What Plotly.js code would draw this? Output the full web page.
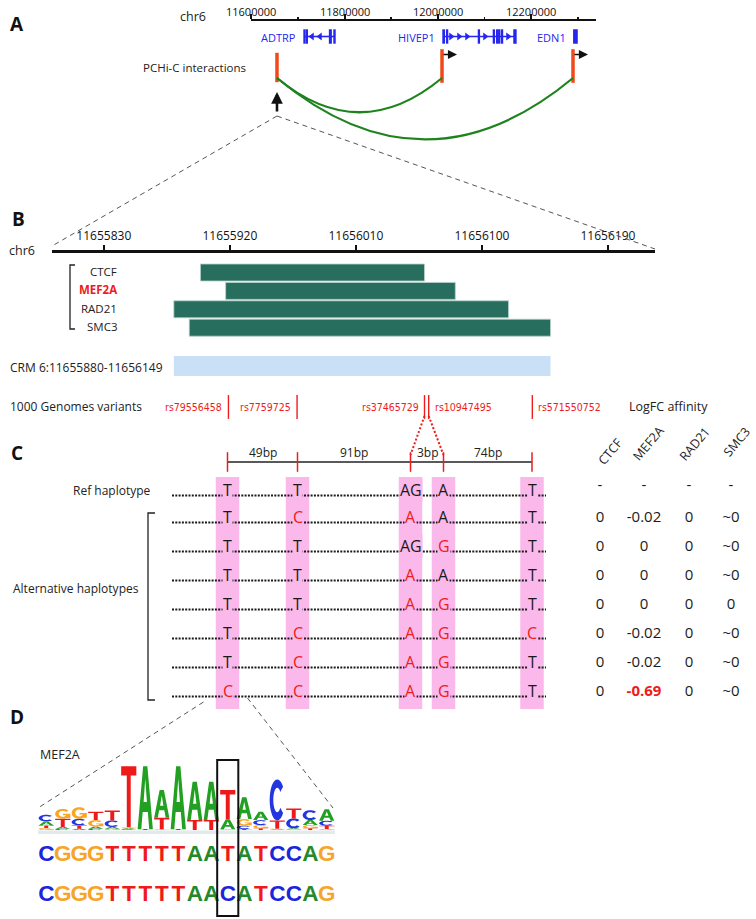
<!DOCTYPE html>
<html><head><meta charset="utf-8">
<script src="https://cdn.plot.ly/plotly-3.0.1.min.js"></script>
<style>html,body{margin:0;padding:0;background:#fff}#chart{width:756px;height:919px}</style>
</head><body><div id="chart"></div>
<script>
// ===================== DATA =====================
const chromName = 'chr6';
const overviewTicks = [11600000, 11800000, 12000000, 12200000];
const geneNames = ['ADTRP', 'HIVEP1', 'EDN1'];
const geneStart = [11713400, 12010700, 12290500];
const geneEnd = [11779700, 12166800, 12297500];
const geneStrand = ['-', '+', '+'];
const geneExons = [
  [[11713400, 11715000], [11718000, 11720500], [11768000, 11771500], [11777500, 11779700]],
  [[12010700, 12013500], [12018500, 12020500], [12086500, 12088500], [12118500, 12120500],
   [12125500, 12127500], [12130000, 12132000], [12136000, 12138000], [12162500, 12166800]],
  [[12290500, 12297500]]
];
const geneChevrons = [[11730500, 11747600], [12027800, 12044900, 12062000, 12100500, 12149800], []];
const pchicOtherEnd = 11655600;
const pchicBaits = [12008600, 12288800];

const zoomTicks = [11655830, 11655920, 11656010, 11656100, 11656190];
const tfNames = ['CTCF', 'MEF2A', 'RAD21', 'SMC3'];
const tfStart = [11655899, 11655917, 11655880, 11655891];
const tfEnd = [11656059, 11656081, 11656119, 11656149];
const crmName = 'CRM 6:11655880-11656149';
const crmStart = 11655880;
const crmEnd = 11656149;
const variantIds = ['rs79556458', 'rs7759725', 'rs37465729', 'rs10947495', 'rs571550752'];
const variantPos = [11655919, 11655968, 11656059, 11656062, 11656136];

const refHaplotype = ['T', 'T', 'AG', 'A', 'T'];
const altHaplotypes = [
  ['T', 'C', 'A', 'A', 'T'],
  ['T', 'T', 'AG', 'G', 'T'],
  ['T', 'T', 'A', 'A', 'T'],
  ['T', 'T', 'A', 'G', 'T'],
  ['T', 'C', 'A', 'G', 'C'],
  ['T', 'C', 'A', 'G', 'T'],
  ['C', 'C', 'A', 'G', 'T']
];
const affinityTFs = ['CTCF', 'MEF2A', 'RAD21', 'SMC3'];
const logfcCTCF  = ['-', '0', '0', '0', '0', '0', '0', '0'];
const logfcMEF2A = ['-', '-0.02', '0', '0', '0', '-0.02', '-0.02', '-0.69'];
const logfcRAD21 = ['-', '0', '0', '0', '0', '0', '0', '0'];
const logfcSMC3  = ['-', '~0', '~0', '~0', '0', '~0', '~0', '~0'];

const motifName = 'MEF2A';
// information content (bits) per motif position
const logoA = [0.12, 0.05, 0.04, 0.06, 0.05, 0.03, 1.90, 0.84, 1.90, 1.16, 1.16, 0.30, 0.66, 0.25, 0.02, 0.03, 0.15, 0.35];
const logoC = [0.20, 0.04, 0.20, 0.04, 0.20, 0.02, 0.01, 0.01, 0.01, 0.01, 0.01, 0.01, 0.10, 0.15, 1.24, 0.30, 0.30, 0.15];
const logoG = [0.06, 0.30, 0.35, 0.20, 0.04, 0.03, 0.01, 0.02, 0.01, 0.01, 0.01, 0.02, 0.20, 0.10, 0.02, 0.02, 0.10, 0.03];
const logoT = [0.08, 0.25, 0.10, 0.25, 0.30, 1.85, 0.03, 0.35, 0.03, 0.30, 0.30, 0.89, 0.03, 0.05, 0.25, 0.30, 0.05, 0.10];
const seqRef = 'CGGGTTTTTAATATCCAG';
const seqAlt = 'CGGGTTTTTAACATCCAG';
const snpMotifPosition = 12;

// ===================== LAYOUT GEOMETRY / STYLE =====================
const W = 756, H = 919;
const fx = p => p / W;
const fy = p => 1 - p / H;
const FONT = 'Open Sans';
const NARROW = 'DejaVu Sans Condensed, Roboto Condensed, Roboto, sans-serif';
const BLUE = '#2626ee', RED = '#ee1c1c', PCHIC = '#f04818', ARC = '#1e831e';
const TFGREEN = '#286e5f', CRMBLUE = '#c9e0f6', PINK = '#fab8eb';
const ovDom = [251, 596], ovRange = [11600000, 12338000];
const zmDom = [52, 655], zmRange = [11655793, 11656223.6];
const pxA = g => ovDom[0] + (g - ovRange[0]) / (ovRange[1] - ovRange[0]) * (ovDom[1] - ovDom[0]);
const pxB = g => zmDom[0] + (g - zmRange[0]) / (zmRange[1] - zmRange[0]) * (zmDom[1] - zmDom[0]);
const LETTER_COL = {A: '#22a022', C: '#2236e0', G: '#f8a624', T: '#ee1a1a'};
const SEQ_COL = {A: '#23892b', C: '#1c24dc', G: '#f6a52a', T: '#ef1b1b'};

const traces = [];
const shapes = [];
const annotations = [];
const ann = (text, x, y, o = {}) => annotations.push(Object.assign({
  text, x, y, xref: 'x5', yref: 'y5', showarrow: false,
  font: {family: FONT, size: 12, color: '#1a1a1a'}, xanchor: 'center', yanchor: 'middle'
}, o));

// ---------- Panel letters ----------
[['A', 17, 24], ['B', 18, 219], ['C', 17, 453], ['D', 17, 717]].forEach(([t, x, y]) =>
  ann('<b>' + t + '</b>', x, y, {font: {family: FONT, size: 19, color: '#111'}}));

// ---------- Panel A ----------
ann(chromName, 193, 16, {font: {family: FONT, size: 12.5, color: '#222'}});
overviewTicks.forEach(t => annotations.push({text: String(t), x: t, y: 11, xref: 'x', yref: 'y5', showarrow: false,
  xanchor: 'center', yanchor: 'middle', font: {family: FONT, size: 11, color: '#111'}}));
ann('PCHi-C interactions', 248, 67, {xanchor: 'right', font: {family: FONT, size: 11.5, color: '#222'}});
const bodyX = [], bodyY = [];
geneNames.forEach((g, i) => {
  bodyX.push(geneStart[i], geneEnd[i], null); bodyY.push(36.5, 36.5, null);
  geneExons[i].forEach(([s, e]) => shapes.push({type: 'rect', xref: 'x', yref: 'y5', x0: s, x1: e, y0: 30, y1: 43,
    fillcolor: BLUE, line: {color: BLUE, width: 1.4}}));
  annotations.push({text: g, x: geneStart[i], y: 37.5, xref: 'x', yref: 'y5', showarrow: false, xanchor: 'right',
    xshift: -6, yanchor: 'middle', font: {family: FONT, size: 11, color: BLUE}});
});
traces.push({type: 'scatter', mode: 'lines', x: bodyX, y: bodyY, xaxis: 'x', yaxis: 'y5',
  line: {color: BLUE, width: 1.6}, hoverinfo: 'skip'});
const chevX = [], chevSym = [];
geneChevrons.forEach((arr, i) => arr.forEach(p => { chevX.push(p); chevSym.push(geneStrand[i] === '-' ? 'triangle-left' : 'triangle-right'); }));
traces.push({type: 'scatter', mode: 'markers', x: chevX, y: chevX.map(() => 36.5), xaxis: 'x', yaxis: 'y5',
  marker: {symbol: chevSym, size: 7, color: BLUE}, hoverinfo: 'skip'});
// PCHi-C fragments
traces.push({type: 'scatter', mode: 'markers', x: [pchicOtherEnd].concat(pchicBaits),
  y: [67.5].concat(pchicBaits.map(() => 66)), xaxis: 'x', yaxis: 'y5',
  marker: {symbol: 'line-ns', size: [21].concat(pchicBaits.map(() => 24)), color: PCHIC, opacity: 1,
    line: {color: PCHIC, width: 3.5}},
  hoverinfo: 'skip'});
pchicBaits.forEach(b => {
  annotations.push({text: '', x: b, y: 54.5, xref: 'x', yref: 'y5', showarrow: true, xshift: 15, ax: -15, ay: 0,
    arrowhead: 2, arrowsize: 1.3, arrowwidth: 1.4, arrowcolor: '#111', standoff: 0, startstandoff: 0});
  const depth = (b - pchicOtherEnd) * 9.7e-5 * 2;
  shapes.push({type: 'path', xref: 'x', yref: 'y5',
    path: `M${pchicOtherEnd},78 Q${(pchicOtherEnd + b) / 2},${78 + depth} ${b},78`,
    line: {color: ARC, width: 2.2}});
});
annotations.push({text: '', x: pchicOtherEnd, y: 92, xref: 'x', yref: 'y5', showarrow: true, ax: 0, ay: 21,
  arrowhead: 2, arrowsize: 0.9, arrowwidth: 2.6, arrowcolor: '#111', standoff: 0});
// zoom lines A -> B
const zx0 = pxA(pchicOtherEnd);
shapes.push({type: 'line', xref: 'x5', yref: 'y5', x0: zx0, y0: 116, x1: zmDom[0], y1: 246, line: {color: '#555', width: 1, dash: '5px,4px'}});
shapes.push({type: 'line', xref: 'x5', yref: 'y5', x0: zx0, y0: 116, x1: zmDom[1], y1: 249, line: {color: '#555', width: 1, dash: '5px,4px'}});

// ---------- Panel B ----------
ann(chromName, 22, 250, {font: {family: FONT, size: 12.5, color: '#222'}});
const tfRowY = tfNames.map((_, i) => 272.5 + i * 18.4);
traces.push({type: 'bar', orientation: 'h', xaxis: 'x2', yaxis: 'y5', y: tfRowY,
  x: tfNames.map((_, i) => tfEnd[i] - tfStart[i]), base: tfStart, width: 17,
  marker: {color: TFGREEN, line: {color: '#b9d2ca', width: 0.8}}, hoverinfo: 'skip'});
traces.push({type: 'bar', orientation: 'h', xaxis: 'x2', yaxis: 'y5', y: [366], x: [crmEnd - crmStart], base: [crmStart],
  width: 20, marker: {color: CRMBLUE, line: {width: 0}}, hoverinfo: 'skip'});
tfNames.forEach((t, i) => ann(t === 'MEF2A' ? '<b>' + t + '</b>' : t, 119, tfRowY[i] - 1,
  {xanchor: 'right', font: {family: FONT, size: 11.5, color: t === 'MEF2A' ? RED : '#222'}}));
shapes.push({type: 'path', xref: 'x5', yref: 'y5', path: 'M75,265 L70,265 L70,329 L75,329', line: {color: '#222', width: 1.3}});
ann(crmName, 8, 367, {xanchor: 'left', font: {family: FONT, size: 12, color: '#222'}});
ann('1000 Genomes variants', 8, 406, {xanchor: 'left', font: {family: FONT, size: 12, color: '#222'}});
traces.push({type: 'scatter', mode: 'markers', x: variantPos, y: variantPos.map(() => 407), xaxis: 'x2', yaxis: 'y5',
  marker: {symbol: 'line-ns', size: 17, line: {color: RED, width: 1.4}}, hoverinfo: 'skip'});
const varSide = ['left', 'left', 'left', 'right', 'right'];
variantIds.forEach((id, i) => annotations.push({text: id, x: variantPos[i], y: 406.5, xref: 'x2', yref: 'y5',
  showarrow: false, xanchor: varSide[i] === 'left' ? 'right' : 'left', xshift: varSide[i] === 'left' ? -4 : 4,
  yanchor: 'middle', font: {family: NARROW, size: 10.5, color: RED}}));
ann('LogFC affinity', 668, 406, {font: {family: FONT, size: 12.5, color: '#222'}});

// ---------- Panel C ----------
const colPx = [227.5, 297.5, 410.5, 443.5, 532];
const hapRowY = [491, 518, 547, 576, 605, 634, 663, 692];
// scale bar
traces.push({type: 'scatter', mode: 'lines', x: [colPx[0], colPx[4]], y: [462, 462], xaxis: 'x5', yaxis: 'y5',
  line: {color: '#222', width: 1.5}, hoverinfo: 'skip'});
traces.push({type: 'scatter', mode: 'markers', x: colPx, y: colPx.map(() => 462), xaxis: 'x5', yaxis: 'y5',
  marker: {symbol: 'line-ns', size: 14, line: {color: RED, width: 1.5}}, hoverinfo: 'skip'});
for (let i = 0; i < variantPos.length - 1; i++) {
  ann((variantPos[i + 1] - variantPos[i]) + 'bp', (colPx[i] + colPx[i + 1]) / 2 + (i === 2 ? 1 : 0), 452,
    {font: {family: FONT, size: 12, color: '#222'}});
}
// red dotted connectors from variants 3 & 4
[2, 3].forEach(i => shapes.push({type: 'line', xref: 'x5', yref: 'y5', x0: pxB(variantPos[i]), y0: 416,
  x1: colPx[i], y1: 455, line: {color: RED, width: 2, dash: '2px,2px'}}));
// pink columns
colPx.forEach(c => shapes.push({type: 'rect', xref: 'x5', yref: 'y5', x0: c - 11.75, x1: c + 11.75, y0: 477, y1: 709,
  fillcolor: PINK, line: {width: 0}, layer: 'below'}));
// dotted haplotype lines
const dotX = [], dotY = [];
hapRowY.forEach(y => { dotX.push(172, 546, null); dotY.push(y + 4.5, y + 4.5, null); });
traces.push({type: 'scatter', mode: 'lines', x: dotX, y: dotY, xaxis: 'x5', yaxis: 'y5',
  line: {color: '#1a1a1a', width: 2.1, dash: '2px,1.3px'}, hoverinfo: 'skip'});
// alleles
const allHaps = [refHaplotype].concat(altHaplotypes);
allHaps.forEach((hap, r) => hap.forEach((a, c) => ann(a, colPx[c], hapRowY[r] - 1, {
  bgcolor: PINK, borderpad: 0,
  font: {family: FONT, size: 16, color: (r > 0 && a !== refHaplotype[c]) ? RED : '#1a1a1a'}})));
ann('Ref haplotype', 153, 490, {xanchor: 'right', font: {family: FONT, size: 12, color: '#222'}});
ann('Alternative haplotypes', 141, 588, {xanchor: 'right', font: {family: FONT, size: 12, color: '#222'}});
shapes.push({type: 'path', xref: 'x5', yref: 'y5', path: 'M155,513 L148,513 L148,700 L155,700', line: {color: '#222', width: 1.3}});
// affinity table
const tableX = [600, 644, 689, 731];
const headerC = [[610, 451], [648, 443], [694, 444], [736, 442]];
const logfcCols = [logfcCTCF, logfcMEF2A, logfcRAD21, logfcSMC3];
affinityTFs.forEach((t, j) => {
  ann(t, headerC[j][0], headerC[j][1], {textangle: -50, font: {family: FONT, size: 12.5, color: '#222'}});
  const vals = logfcCols[j];
  traces.push({type: 'scatter', mode: 'text', xaxis: 'x5', yaxis: 'y5', x: vals.map(() => tableX[j]),
    y: hapRowY.map((y, r) => r === 0 ? y - 5 : y),
    text: vals.map(v => v === '-0.69' ? '<b>' + v + '</b>' : v),
    textfont: {family: FONT, size: 15, color: vals.map(v => v === '-0.69' ? RED : '#1a1a1a')},
    textposition: 'middle center', hoverinfo: 'skip'});
});

// ---------- Panel D ----------
ann(motifName, 60, 754, {font: {family: FONT, size: 12.5, color: '#222'}});
shapes.push({type: 'line', xref: 'x5', yref: 'y5', x0: colPx[0] - 24, y0: 702, x1: 38, y1: 808, line: {color: '#555', width: 1, dash: '5px,4px'}});
shapes.push({type: 'line', xref: 'x5', yref: 'y5', x0: colPx[0] + 20, y0: 698, x1: 333, y1: 808, line: {color: '#555', width: 1, dash: '5px,4px'}});

function glyphPath(letter, x0, x1, y0, y1) {
  const X = u => (x0 + u * (x1 - x0)).toFixed(4);
  const Y = v => (y0 + v * (y1 - y0)).toFixed(5);
  const poly = pts => 'M' + pts.map(p => X(p[0]) + ',' + Y(p[1])).join('L') + 'Z';
  const ring = (a0, a1) => {
    const out = [], inn = [];
    for (let a = a0; a <= a1 + 0.01; a += 10) {
      const r = a * Math.PI / 180;
      out.push([0.5 + 0.5 * Math.cos(r), 0.5 + 0.5 * Math.sin(r)]);
      inn.push([0.5 + 0.26 * Math.cos(r), 0.5 + 0.3 * Math.sin(r)]);
    }
    return out.concat(inn.reverse());
  };
  if (letter === 'T') return poly([[0, 1], [1, 1], [1, 0.85], [0.63, 0.85], [0.63, 0], [0.37, 0], [0.37, 0.85], [0, 0.85]]);
  if (letter === 'A') return poly([[0, 0], [0.36, 1], [0.64, 1], [1, 0], [0.76, 0], [0.67, 0.27], [0.33, 0.27], [0.24, 0]])
    + poly([[0.39, 0.43], [0.61, 0.43], [0.5, 0.8]]);
  if (letter === 'C') return poly(ring(40, 320));
  return poly(ring(40, 350)) + poly([[0.52, 0.36], [1, 0.36], [1, 0.5], [0.52, 0.5]]) + poly([[0.8, 0.08], [1, 0.08], [1, 0.5], [0.8, 0.5]]);
}
const logoMat = {A: logoA, C: logoC, G: logoG, T: logoT};
logoA.forEach((_, k) => {
  const pos = k + 1;
  const letters = ['A', 'C', 'G', 'T'].map(L => [L, logoMat[L][k]]).filter(d => d[1] >= 0.02).sort((a, b) => a[1] - b[1]);
  let base = 0;
  letters.forEach(([L, h]) => {
    shapes.push({type: 'path', xref: 'x4', yref: 'y4', path: glyphPath(L, pos - 0.46, pos + 0.46, base, base + h),
      fillcolor: LETTER_COL[L], fillrule: L === 'G' ? 'nonzero' : 'evenodd', line: {width: 0}});
    base += h;
  });
});
shapes.push({type: 'rect', xref: 'x4', yref: 'y5', x0: 0.5, x1: 18.5, y0: 830.5, y1: 834, fillcolor: '#e3eaea', line: {width: 0}, layer: 'below'});
traces.push({type: 'scatter', mode: 'markers', x: [], y: [], xaxis: 'x4', yaxis: 'y4', hoverinfo: 'skip'});
[[seqRef, 855], [seqAlt, 895]].forEach(([s, y]) => {
  const letters = s.split('');
  traces.push({type: 'scatter', mode: 'text', xaxis: 'x4', yaxis: 'y5', x: letters.map((_, i) => i + 1), y: letters.map(() => y),
    text: letters, textposition: 'middle center',
    textfont: {family: 'Liberation Sans', size: 22.5, weight: 'bold', color: letters.map(L => SEQ_COL[L])}, hoverinfo: 'skip'});
});
shapes.push({type: 'rect', xref: 'x4', yref: 'y5', x0: snpMotifPosition - 0.64, x1: snpMotifPosition + 0.64, y0: 760, y1: 916,
  line: {color: '#111', width: 2}});

// ===================== AXES =====================
const hidden = {visible: false, showgrid: false, zeroline: false, fixedrange: true};
const layout = {
  width: W, height: H, autosize: false, margin: {l: 0, r: 0, t: 0, b: 0},
  paper_bgcolor: '#fff', plot_bgcolor: 'rgba(0,0,0,0)', showlegend: false, hovermode: false,
  font: {family: FONT, color: '#222'}, barmode: 'overlay',
  xaxis: {domain: [fx(ovDom[0]), fx(ovDom[1])], range: ovRange, anchor: 'free', position: fy(20), side: 'top',
    showline: true, linewidth: 2, linecolor: '#111', ticks: 'outside', ticklen: 5, tickwidth: 2, tickcolor: '#111',
    tickmode: 'array', tickvals: overviewTicks, showticklabels: false, showgrid: false, zeroline: false,
    minor: {tickmode: 'linear', tick0: 11600000, dtick: 100000, ticks: 'outside', ticklen: 2.5, tickwidth: 1.5, tickcolor: '#111', showgrid: false}},
  xaxis2: {domain: [fx(zmDom[0]), fx(zmDom[1])], range: zmRange, anchor: 'free', position: fy(251), side: 'top',
    showline: true, linewidth: 2.5, linecolor: '#111', ticks: 'outside', ticklen: 5, tickwidth: 2, tickcolor: '#111',
    tickmode: 'array', tickvals: zoomTicks, ticktext: zoomTicks.map(String),
    tickfont: {family: FONT, size: 12, color: '#111'}, showgrid: false, zeroline: false},
  xaxis4: Object.assign({domain: [fx(38), fx(335)], range: [0.5, 18.5], anchor: 'y4'}, hidden),
  yaxis4: Object.assign({domain: [fy(830), fy(764)], range: [0, 2], anchor: 'x4'}, hidden),
  xaxis5: Object.assign({domain: [0, 1], range: [0, W], anchor: 'y5'}, hidden),
  yaxis5: Object.assign({domain: [0, 1], range: [H, 0], anchor: 'x5'}, hidden),
  shapes, annotations
};
Plotly.newPlot('chart', traces, layout, {staticPlot: true, displayModeBar: false});
</script></body></html>
